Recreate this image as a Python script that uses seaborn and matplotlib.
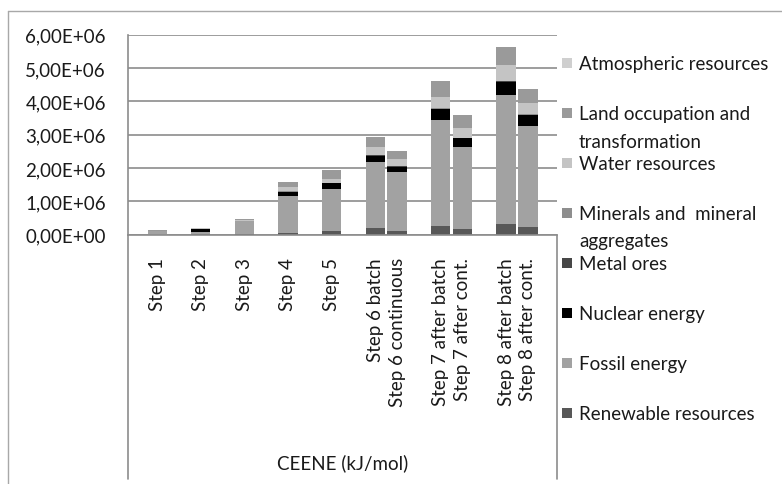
import numpy as np
import pandas as pd
import matplotlib.pyplot as plt
import matplotlib.ticker as mticker
from matplotlib.lines import Line2D
from matplotlib.patches import Rectangle
import seaborn as sns

# categories and stacked series (values in kJ/mol)
steps = ["Step 1", "Step 2", "Step 3", "Step 4", "Step 5",
         "Step 6 batch", "Step 6 continuous",
         "Step 7 after batch", "Step 7 after cont.",
         "Step 8 after batch", "Step 8 after cont."]
renewable = [0.005e6, 0.01e6, 0.01e6, 0.06e6, 0.12e6, 0.19e6, 0.12e6, 0.27e6, 0.17e6, 0.32e6, 0.22e6]
fossil    = [0.12e6, 0.08e6, 0.39e6, 1.11e6, 1.25e6, 1.98e6, 1.75e6, 3.17e6, 2.45e6, 3.87e6, 3.05e6]
nuclear   = [0.0, 0.09e6, 0.01e6, 0.12e6, 0.17e6, 0.20e6, 0.17e6, 0.33e6, 0.27e6, 0.40e6, 0.32e6]
metal     = [0.0, 0.0, 0.0, 0.005e6, 0.01e6, 0.01e6, 0.01e6, 0.01e6, 0.01e6, 0.01e6, 0.01e6]
minerals  = [0.0, 0.0, 0.0, 0.005e6, 0.01e6, 0.01e6, 0.01e6, 0.01e6, 0.01e6, 0.01e6, 0.01e6]
water     = [0.0, 0.01e6, 0.03e6, 0.12e6, 0.12e6, 0.23e6, 0.21e6, 0.33e6, 0.28e6, 0.48e6, 0.33e6]
land      = [0.005e6, 0.01e6, 0.04e6, 0.15e6, 0.27e6, 0.30e6, 0.25e6, 0.50e6, 0.40e6, 0.53e6, 0.43e6]
atmos     = [0.0, 0.0, 0.0, 0.002e6, 0.003e6, 0.005e6, 0.005e6, 0.005e6, 0.005e6, 0.005e6, 0.005e6]

series = ["Renewable resources", "Fossil energy", "Nuclear energy", "Metal ores",
          "Minerals and  mineral\naggregates", "Water resources",
          "Land occupation and\ntransformation", "Atmospheric resources"]
values = [renewable, fossil, nuclear, metal, minerals, water, land, atmos]
colors = ["#585858", "#a2a2a2", "#000000", "#474747",
          "#8e8e8e", "#c4c4c4", "#9a9a9a", "#cfcfcf"]

# empty slots between the groups, like in the excel sheet
order = ["Step 1", " ", "Step 2", "  ", "Step 3", "   ", "Step 4", "    ",
         "Step 5", "     ", "Step 6 batch", "Step 6 continuous", "      ",
         "Step 7 after batch", "Step 7 after cont.", "       ",
         "Step 8 after batch", "Step 8 after cont."]

sns.set_style("white")
plt.rcParams['font.family'] = ['Lato', 'DejaVu Sans']
fs = 13.5

W, H = 782, 485
fig = plt.figure(figsize=(W / 100, H / 100), dpi=100)
ax = fig.add_axes([128 / W, 1 - 235.7 / H, (557 - 128) / W, 200 / H])

cum = np.zeros(len(steps))
tops = []
for vals in values:
    cum = cum + np.array(vals)
    tops.append(cum.copy())
df_tops = pd.DataFrame(np.array(tops).T, columns=series)
df_tops["step"] = steps

# stacked bars: draw the cumulative totals from the top layer down
for name, col in reversed(list(zip(series, colors))):
    sns.barplot(data=df_tops, x="step", y=name, order=order, color=col,
                saturation=1, width=0.88, linewidth=0, errorbar=None, ax=ax)

gcol = "#8c8c8c"
ax.set_ylim(0, 6e6)
ax.set_yticks(np.arange(0, 6.01e6, 1e6))
ax.yaxis.set_major_formatter(mticker.FuncFormatter(lambda v, p: f"{v:.2E}".replace(".", ",")))
ax.yaxis.grid(True, color=gcol, lw=1.2)
ax.set_axisbelow(True)
ax.set_xlabel("")
ax.set_ylabel("")
for s in ["top", "right"]:
    ax.spines[s].set_visible(False)
for s in ["left", "bottom"]:
    ax.spines[s].set_color(gcol)
    ax.spines[s].set_linewidth(1.2)
ax.tick_params(axis="y", length=5, width=1.2, color=gcol, pad=11,
               labelsize=fs, labelcolor="#1a1a1a")
ax.tick_params(axis="x", length=0, pad=16, labelsize=fs,
               labelcolor="#1a1a1a", rotation=90)
for lab in ax.get_xticklabels():
    lab.set_va("top")

# category box below the axis
depth = (480 - 235.7) / 200
ax.plot([0, 0], [0, -depth], transform=ax.transAxes, clip_on=False, color=gcol, lw=1.2)
ax.plot([1, 1], [0, -depth], transform=ax.transAxes, clip_on=False, color=gcol, lw=1.2)
fig.text(342.5 / W, 1 - 463 / H, "CEENE (kJ/mol)", ha="center", va="center",
         fontsize=fs, color="#1a1a1a")

# legend, top entry first
y0 = 64
for i, (name, col) in enumerate(reversed(list(zip(series, colors)))):
    yc = y0 + 50 * i
    fig.add_artist(Rectangle((562 / W, 1 - (yc + 5) / H), 10 / W, 10 / H,
                             transform=fig.transFigure, color=col, lw=0))
    fig.text(579 / W, 1 - (yc - 8) / H, name, ha="left", va="top",
             fontsize=fs, color="#1a1a1a", linespacing=1.75)

# outer frame
fcol = "#a8a8a8"
fig.add_artist(Line2D([8 / W, 8 / W], [1 - 12 / H, 0], color=fcol, lw=1))
fig.add_artist(Line2D([8 / W, 1], [1 - 12 / H, 1 - 12 / H], color=fcol, lw=1))

fig.savefig("out.png", dpi=100)
